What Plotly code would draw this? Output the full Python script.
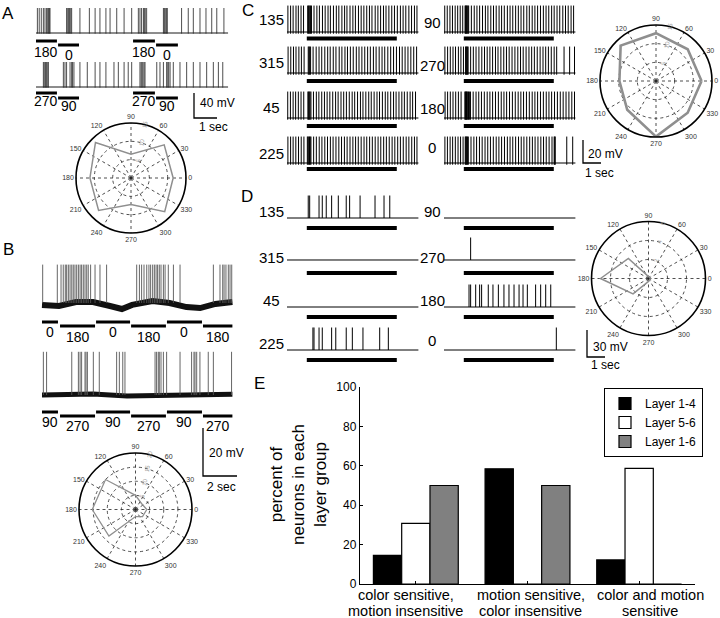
import plotly.graph_objects as go

W, H = 720, 618
FONT = "Liberation Sans, Arial, Helvetica, sans-serif"

# ================= DATA =================
# ---- Panel A (time in s, voltage in mV relative to rest) ----
A_len = 8.35
A_peak = 40
A_stim_on = [0.00, 0.96, 4.22, 5.22]
A_stim_off = [0.91, 1.87, 5.17, 6.17]
A1_dirs = ["180", "0", "180", "0"]
A2_dirs = ["270", "90", "270", "90"]
A1_spikes = [0.06, 0.14, 0.23, 0.32, 0.39, 0.46, 0.51, 0.55, 0.58, 0.61,
             1.33, 1.38, 1.42, 1.46, 1.51, 1.55, 1.91, 2.32, 2.57, 2.78,
             3.04, 3.22, 3.51, 3.83, 4.16, 4.45, 4.52, 4.59, 4.67, 4.71,
             4.75, 4.81, 5.54, 5.58, 5.62, 5.67, 5.71, 6.33, 6.62, 6.84,
             7.13, 7.39, 7.64, 7.86, 8.17]
A2_spikes = [0.32, 0.36, 0.41, 0.45, 0.49, 0.54, 1.19, 1.26, 1.33, 1.48,
             1.55, 1.59, 1.65, 1.91, 2.23, 2.57, 2.78, 3.04, 3.39, 3.58,
             3.83, 4.01, 4.16, 4.52, 4.57, 4.61, 4.65, 4.70, 4.74, 5.25,
             5.39, 5.54, 5.68, 5.73, 5.77, 5.83, 5.97, 6.26, 6.55, 6.84,
             7.13, 7.42, 7.71, 7.93, 8.12]
A_theta = [0, 45, 90, 135, 180, 225, 270, 315, 0]
A_rate = [11.5, 12.8, 6.5, 13.7, 11.2, 12.5, 7.2, 13.0, 11.5]
A_rticks = [5, 10, 15]

# ---- Panel B ----
B_len = 11.2
B1_peak = 16
B2_peak = 18
B_stim_on = [0.00, 1.06, 3.18, 5.24, 7.35, 9.47]
B_stim_off = [0.94, 3.12, 5.18, 7.29, 9.41, 11.20]
B1_dirs = ["0", "180", "0", "180", "0", "180"]
B2_dirs = ["90", "270", "90", "270", "90", "270"]
B1_spikes = [0.04, 0.90, 1.12, 1.25, 1.37, 1.45, 1.55, 1.65, 1.75, 1.84,
             1.94, 2.04, 2.14, 2.24, 2.33, 2.43, 2.53, 2.63, 2.72, 2.86,
             3.12, 3.41, 3.80, 5.57, 5.73, 5.86, 6.00, 6.16, 6.29, 6.39,
             6.51, 6.61, 6.71, 6.80, 6.90, 7.00, 7.14, 7.24, 7.43, 7.73,
             8.12, 10.08, 10.47, 10.63, 10.71, 10.82, 10.96, 11.06, 11.16]
B2_spikes = [0.08, 0.27, 1.75, 2.14, 2.24, 2.33, 2.53, 2.59, 2.67, 3.02,
             3.37, 4.39, 4.55, 4.75, 4.88, 6.65, 6.74, 6.84, 6.90, 7.00,
             7.14, 7.33, 8.12, 8.80, 8.94, 9.00, 9.10, 9.29, 9.78, 10.08,
             11.15]
B1_base_t = [0, 1, 2, 3, 4, 4.7, 5.3, 6.5, 7.5, 8.5, 9.3, 10.2, 11.2]
B1_base_v = [-0.8, -1.25, 0.4, 0.4, -1.25, -2.5, -0.8, 0.8, 0, -1.7, -2.1, -0.4, 0.4]
B2_base_t = [0, 3, 5, 8, 11.2]
B2_base_v = [0, 0.4, -0.4, 0, 0.3]
B_theta = [0, 45, 90, 135, 180, 225, 270, 315, 0]
B_rate = [4, 3, 5, 15, 15.3, 13.3, 2.5, 3.5, 4]
B_rticks = [5, 10, 15, 20]

# ---- Panel C ----
C_len = 7.3
C_peak = 23
C_stim = [1.1, 6.1]
C_left_dirs = ["135", "315", "45", "225"]
C_right_dirs = ["90", "270", "180", "0"]
C135 = [0.05, 0.2, 0.34, 0.5, 0.63, 0.78, 0.92, 1.15, 1.19, 1.23, 1.27, 1.31, 1.36, 1.5, 1.66,
        1.8, 1.97, 2.12, 2.28, 2.41, 2.58, 2.74, 2.88, 3.05, 3.2, 3.33, 3.5, 3.66, 3.8, 3.97,
        4.12, 4.27, 4.43, 4.58, 4.72, 4.9, 5.05, 5.2, 5.36, 5.5, 5.66, 5.82, 5.97, 6.13, 6.3,
        6.45, 6.6, 6.77, 6.92, 7.08, 7.22]
C90 = [0.04, 0.18, 0.33, 0.47, 0.62, 0.76, 0.9, 1.04, 1.17, 1.2, 1.23, 1.26, 1.29, 1.33, 1.37,
       1.52, 1.68, 1.83, 1.98, 2.14, 2.3, 2.44, 2.6, 2.75, 2.9, 3.06, 3.2, 3.35, 3.52, 3.67,
       3.82, 3.98, 4.13, 4.28, 4.43, 4.6, 4.74, 4.9, 5.05, 5.2, 5.36, 5.52, 5.67, 5.82, 5.98,
       6.12, 6.28, 6.43, 6.6, 6.75, 6.9, 7.06, 7.2]
C315 = [0.06, 0.21, 0.36, 0.5, 0.66, 0.8, 0.95, 1.18, 1.22, 1.26, 1.31, 1.45, 1.62, 1.78, 1.93,
        2.1, 2.26, 2.4, 2.57, 2.72, 2.9, 3.05, 3.22, 3.36, 3.52, 3.68, 3.85, 4.0, 4.16, 4.32,
        4.48, 4.63, 4.8, 4.95, 5.12, 5.28, 5.43, 5.6, 5.76, 5.92, 6.08, 6.25, 6.4, 6.56, 6.72,
        6.88, 7.04, 7.2]
C270 = [0.05, 0.2, 0.35, 0.5, 0.64, 0.8, 0.94, 1.08, 1.2, 1.23, 1.26, 1.3, 1.34, 1.48, 1.63,
        1.78, 1.94, 2.1, 2.25, 2.4, 2.55, 2.7, 2.86, 3.0, 3.16, 3.32, 3.47, 3.62, 3.78, 3.94,
        4.1, 4.25, 4.4, 4.56, 4.72, 4.87, 5.02, 5.18, 5.34, 5.5, 5.65, 5.8, 5.96, 6.12, 6.26,
        6.67, 6.98, 7.25]
C45 = [0.04, 0.19, 0.34, 0.48, 0.63, 0.78, 0.93, 1.16, 1.2, 1.24, 1.28, 1.33, 1.47, 1.63, 1.77,
       1.93, 2.08, 2.23, 2.38, 2.54, 2.7, 2.84, 3.0, 3.15, 3.3, 3.46, 3.62, 3.76, 3.92, 4.08,
       4.22, 4.38, 4.54, 4.68, 4.84, 5.0, 5.14, 5.3, 5.46, 5.6, 5.76, 5.92, 6.06, 6.22, 6.38,
       6.52, 6.68, 6.84, 6.98, 7.14]
C180 = [0.06, 0.2, 0.35, 0.5, 0.65, 0.8, 0.95, 1.16, 1.19, 1.22, 1.25, 1.28, 1.32, 1.36, 1.41,
        1.47, 1.62, 1.78, 1.93, 2.08, 2.24, 2.4, 2.55, 2.7, 2.86, 3.02, 3.18, 3.33, 3.48, 3.64,
        3.8, 3.96, 4.12, 4.27, 4.42, 4.58, 4.74, 4.9, 5.05, 5.2, 5.36, 5.52, 5.68, 5.83, 5.98,
        6.14, 6.3, 6.46, 6.62, 6.78, 6.94, 7.1, 7.25]
C225 = [0.05, 0.2, 0.34, 0.49, 0.64, 0.79, 0.94, 1.13, 1.17, 1.21, 1.25, 1.29, 1.33, 1.48, 1.63,
        1.79, 1.94, 2.1, 2.25, 2.41, 2.56, 2.72, 2.88, 3.03, 3.19, 3.34, 3.5, 3.66, 3.81, 3.96,
        4.12, 4.28, 4.43, 4.59, 4.74, 4.9, 5.06, 5.21, 5.37, 5.52, 5.68, 5.84, 5.99, 6.15, 6.3,
        6.46, 6.62, 6.77, 6.93, 7.08, 7.22]
C0 = [0.05, 0.19, 0.34, 0.48, 0.63, 0.78, 0.92, 1.06, 1.18, 1.21, 1.24, 1.27, 1.31, 1.35, 1.5,
      1.66, 1.81, 1.97, 2.12, 2.28, 2.43, 2.58, 2.74, 2.9, 3.05, 3.2, 3.36, 3.52, 3.67, 3.82,
      3.98, 4.14, 4.29, 4.44, 4.6, 4.76, 4.91, 5.06, 5.22, 5.38, 5.53, 5.68, 5.84, 6.0, 6.12,
      6.15, 6.18, 6.82, 7.15]
C_theta = [0, 45, 90, 135, 180, 225, 270, 315, 0]
C_rate = [12.2, 12.0, 12.8, 13.4, 9.8, 10.9, 14.9, 12.0, 12.2]
C_rticks = [5, 10, 15]

# ---- Panel D ----
D_len = 7.3
D_peak = 25
D_stim = [1.1, 6.1]
D_left_dirs = ["135", "315", "45", "225"]
D_right_dirs = ["90", "270", "180", "0"]
D135 = [1.18, 1.26, 1.78, 1.96, 2.18, 2.48, 2.85, 3.29, 3.48, 4.06, 4.89, 5.39, 5.71]
D90 = []
D315 = []
D270 = [1.48]
D45 = []
D180 = [1.39, 1.48, 1.76, 1.98, 2.09, 2.46, 2.72, 3.02, 3.33, 3.61, 3.89, 4.17, 4.39,
        4.63, 5.09, 5.37, 5.65, 5.93]
D225 = [1.44, 1.50, 1.78, 1.96, 2.48, 2.71, 3.29, 3.63, 4.22, 5.15, 5.63]
D0 = [6.24]
D_theta = [0, 45, 90, 135, 180, 225, 270, 315, 0]
D_rate = [0.2, 0.2, 0.2, 3.0, 5.05, 2.3, 0.3, 0.2, 0.2]
D_rticks = [2, 4, 6]

# ---- Panel E ----
E_groups = ["color sensitive,<br>motion insensitive",
            "motion sensitive,<br>color insensitive",
            "color and motion<br>sensitive"]
E_layer14 = [14.5, 58.5, 12.2]
E_layer56 = [30.8, 0, 58.7]
E_layer16 = [50, 50, 0]

# ================= BUILD =================
fig = go.Figure()
layout = {}
annotations = []
n_axes = [0]


def px_x(px):
    return px / W


def px_y(py):
    return 1 - py / H


def new_axis(x0, y0, sx, sy, xr, yr):
    n_axes[0] += 1
    n = n_axes[0]
    s = "" if n == 1 else str(n)
    layout["xaxis" + s] = dict(domain=[px_x(x0 + xr[0] * sx), px_x(x0 + xr[1] * sx)],
                               range=list(xr), visible=False, anchor="y" + s,
                               fixedrange=True, automargin=False)
    layout["yaxis" + s] = dict(domain=[px_y(y0 - yr[0] * sy), px_y(y0 - yr[1] * sy)],
                               range=list(yr), visible=False, anchor="x" + s,
                               fixedrange=True, automargin=False)
    return "x" + s, "y" + s


def text(x, y, s, size, xref="paper", anchor="center", color="black", xshift=0):
    annotations.append(dict(x=(x / W if xref == "paper" else x), y=px_y(y), xref=xref,
                            yref="paper", text=s, showarrow=False, xshift=xshift,
                            font=dict(size=size, color=color, family=FONT),
                            xanchor=anchor, yanchor="middle"))


def draw_trace(xa, ya, spikes, base_t, base_v, peak, low, color="black", sw=1.0, bw=1.0, bcolor="black"):
    fig.add_trace(go.Scatter(x=base_t, y=base_v, xaxis=xa, yaxis=ya, mode="lines",
                             line=dict(color=bcolor, width=bw), showlegend=False, hoverinfo="skip"))
    xs, ys = [], []
    for t in spikes:
        xs += [t, t, None]
        ys += [low, peak, None]
    if xs:
        fig.add_trace(go.Scatter(x=xs, y=ys, xaxis=xa, yaxis=ya, mode="lines",
                                 line=dict(color=color, width=sw), showlegend=False, hoverinfo="skip"))


def draw_bars(xa, ya, ons, offs, levels, width):
    xs, ys = [], []
    for a, b, lv in zip(ons, offs, levels):
        xs += [a, b, None]
        ys += [lv, lv, None]
    fig.add_trace(go.Scatter(x=xs, y=ys, xaxis=xa, yaxis=ya, mode="lines",
                             line=dict(color="black", width=width), showlegend=False, hoverinfo="skip"))


def scalebar(x0, y0, sx, sy, sec, mv, t_mv, t_s, pos_mv, pos_s):
    xa, ya = new_axis(x0, y0, sx, sy, [-0.15 * sec, 1.15 * sec], [-0.1 * mv, 1.1 * mv])
    fig.add_trace(go.Scatter(x=[0, 0, sec], y=[mv, 0, 0], xaxis=xa, yaxis=ya, mode="lines",
                             line=dict(color="black", width=1.3), showlegend=False,
                             hoverinfo="skip", cliponaxis=False))
    text(pos_mv[0], pos_mv[1], t_mv, 12, anchor="left")
    text(pos_s[0], pos_s[1], t_s, 12, anchor="left")


# ---- Panel A ----
A_x0, A_sx, A_sy = 36, 23, 0.625
A_rows = [
    (A1_spikes, A1_dirs, 33, {"180": 41, "0": 45}, {"180": 52, "0": 55}),
    (A2_spikes, A2_dirs, 87, {"270": 93, "90": 98}, {"270": 101, "90": 106}),
]
for spikes, dirs, y0, barpx, labpx in A_rows:
    levels = [(y0 - barpx[d]) / A_sy for d in dirs]
    xa, ya = new_axis(A_x0, y0, A_sx, A_sy, [-0.05, A_len + 0.05], [min(levels) - 3, A_peak + 2])
    draw_trace(xa, ya, spikes, [0, A_len], [0, 0], A_peak, -1, color="#222", sw=0.8, bw=0.9)
    draw_bars(xa, ya, A_stim_on, A_stim_off, levels, 3)
    for on, off, d in zip(A_stim_on, A_stim_off, dirs):
        text((on + off) / 2, labpx[d], d, 14, xref=xa)
scalebar(194, 118, A_sx, A_sy, 1, 40, "40 mV", "1 sec", (198, 103), (197, 127))

# ---- Panel B ----
B_x0, B_sx, B_sy = 42, 17, 2.4
B_rows = [
    (B1_spikes, B1_dirs, 303, B1_base_t, B1_base_v, B1_peak, {"0": 322, "180": 326},
     {"0": 332, "180": 337}, 6),
    (B2_spikes, B2_dirs, 395, B2_base_t, B2_base_v, B2_peak, {"90": 412, "270": 416},
     {"90": 422, "270": 426}, 5),
]
for spikes, dirs, y0, bt, bv, peak, barpx, labpx, bw in B_rows:
    levels = [(y0 - barpx[d]) / B_sy for d in dirs]
    xa, ya = new_axis(B_x0, y0, B_sx, B_sy, [-0.05, B_len + 0.05], [min(levels) - 2, peak + 1])
    draw_trace(xa, ya, spikes, bt, bv, peak, 0, color="#555", sw=0.9, bw=bw, bcolor="#111")
    draw_bars(xa, ya, B_stim_on, B_stim_off, levels, 3)
    for on, off, d in zip(B_stim_on, B_stim_off, dirs):
        text((on + off) / 2, labpx[d], d, 14, xref=xa)
scalebar(203, 476, B_sx, B_sy, 2, 20, "20 mV", "2 sec", (207, 453), (205, 487))

# ---- Panel C ----
C_spk = {"135": C135, "90": C90, "315": C315, "270": C270,
         "45": C45, "180": C180, "225": C225, "0": C0}
C_sx, C_sy = 18, 1.15
C_cols = [(287, C_left_dirs, 271, [20, 63, 107, 153]),
          (444, C_right_dirs, 432, [22, 65, 108, 147])]
C_base_px = [32, 73, 118, 163]
C_bar_px = [38.5, 81, 126, 169]
for x0, dirs, lab_x, lab_y in C_cols:
    for i, d in enumerate(dirs):
        y0 = C_base_px[i]
        lv = (y0 - C_bar_px[i]) / C_sy
        xa, ya = new_axis(x0, y0, C_sx, C_sy, [-0.05, C_len + 0.05], [lv - 3, C_peak + 2])
        draw_trace(xa, ya, C_spk[d], [0, C_len], [0, 0], C_peak, -1.5, sw=1.0, bw=1.1)
        draw_bars(xa, ya, [C_stim[0]], [C_stim[1]], [lv], 4)
        text(lab_x, lab_y[i], d, 15)
scalebar(583, 163, C_sx, C_sy, 1, 20, "20 mV", "1 sec", (586, 154), (583, 173))

# ---- Panel D ----
D_spk = {"135": D135, "90": D90, "315": D315, "270": D270,
         "45": D45, "180": D180, "225": D225, "0": D0}
D_sx, D_sy = 18, 0.9
D_cols = [(287, D_left_dirs, 271, [212, 257, 300, 343]),
          (444, D_right_dirs, 432, [212, 257, 301, 340])]
D_base_px = [218, 260, 307, 350]
D_bar_px = [228, 273, 317, 360]
for x0, dirs, lab_x, lab_y in D_cols:
    for i, d in enumerate(dirs):
        y0 = D_base_px[i]
        lv = (y0 - D_bar_px[i]) / D_sy
        xa, ya = new_axis(x0, y0, D_sx, D_sy, [-0.05, D_len + 0.05], [lv - 4, D_peak + 2])
        draw_trace(xa, ya, D_spk[d], [0, D_len], [0, 0], D_peak, 0, sw=1.0, bw=1.0)
        draw_bars(xa, ya, [D_stim[0]], [D_stim[1]], [lv], 4)
        text(lab_x, lab_y[i], d, 15)
scalebar(587, 357, D_sx, D_sy, 1, 30, "30 mV", "1 sec", (591, 347), (589, 365))

# ---- Polar plots ----
def polar_layout(cx, cy, rad, rticks):
    return dict(
        domain=dict(x=[px_x(cx - rad), px_x(cx + rad)], y=[px_y(cy + rad), px_y(cy - rad)]),
        bgcolor="white",
        angularaxis=dict(rotation=0, direction="counterclockwise", tickmode="array",
                         tickvals=list(range(0, 360, 30)),
                         ticktext=[str(a) for a in range(0, 360, 30)],
                         showline=True, linecolor="black", linewidth=1.6,
                         showgrid=True, gridcolor="#222", griddash="dot", gridwidth=0.8,
                         ticks="", tickfont=dict(size=7, color="#333", family=FONT)),
        radialaxis=dict(range=[0, rticks[-1]], tickmode="array", tickvals=rticks,
                        ticktext=[str(v) for v in rticks], showline=False, ticks="",
                        angle=80, tickangle=0, showgrid=True, gridcolor="#222",
                        griddash="dot", gridwidth=0.8,
                        tickfont=dict(size=6, color="#999", family=FONT)),
    )


polars = [
    ("polar", A_theta, A_rate, A_rticks, (131, 178, 55), 1.5),
    ("polar2", B_theta, B_rate, B_rticks, (135.5, 509.5, 56.5), 1.3),
    ("polar3", C_theta, C_rate, C_rticks, (656, 81, 56), 2.6),
    ("polar4", D_theta, D_rate, D_rticks, (648.5, 278.5, 57), 1.5),
]
for name, th, rr, rt, (cx, cy, rad), lw in polars:
    layout[name] = polar_layout(cx, cy, rad, rt)
    fig.add_trace(go.Scatterpolar(theta=th, r=rr, subplot=name, mode="lines",
                                  line=dict(color="#8f8f8f", width=lw),
                                  showlegend=False, hoverinfo="skip"))

# ---- Panel E ----
n_axes[0] += 1
eid = str(n_axes[0])
E_cats = [1, 2, 3]
layout["xaxis" + eid] = dict(domain=[px_x(360), px_x(695)], range=[0.5, 3.5],
                             tickmode="array", tickvals=E_cats, showticklabels=False,
                             automargin=False,
                             ticks="inside", ticklen=3, tickcolor="black",
                             showline=True, linecolor="black", linewidth=1.2,
                             showgrid=False, zeroline=False, anchor="y" + eid, fixedrange=True)
layout["yaxis" + eid] = dict(domain=[px_y(584), px_y(387)], range=[0, 100], dtick=20,
                             automargin=False,
                             ticks="inside", ticklen=3, tickcolor="black",
                             showline=True, linecolor="black", linewidth=1.2,
                             showgrid=False, zeroline=False, anchor="x" + eid, fixedrange=True,
                             tickfont=dict(size=12, color="black", family=FONT))
for name, vals, col in [("Layer 1-4", E_layer14, "black"),
                        ("Layer 5-6", E_layer56, "white"),
                        ("Layer 1-6", E_layer16, "#808080")]:
    fig.add_trace(go.Bar(x=E_cats, y=vals, name=name, xaxis="x" + eid, yaxis="y" + eid,
                         marker=dict(color=col, line=dict(color="black", width=1.2)),
                         hoverinfo="skip"))
# category labels (two lines each, placed under the axis at each category)
E_label_shift = [-10, 3, 11]
for cat, lab, sh in zip(E_cats, E_groups, E_label_shift):
    for line, ypx in zip(lab.split("<br>"), [595, 611]):
        text(cat, ypx, line, 14.5, xref="x" + eid, xshift=sh)
annotations.append(dict(x=px_x(299), y=px_y(485), xref="paper", yref="paper",
                        text="percent of<br>neurons in each<br>layer group", textangle=-90,
                        showarrow=False, font=dict(size=17, color="black", family=FONT),
                        xanchor="center", yanchor="middle"))

# ---- panel letters ----
for letter, (lx, ly) in {"A": (8, 13), "B": (8, 249), "C": (248, 11),
                          "D": (247, 197), "E": (259, 384)}.items():
    text(lx, ly, letter, 17)

fig.update_layout(**layout)
fig.update_layout(
    width=W, height=H, margin=dict(l=0, r=0, t=0, b=0, autoexpand=False),
    paper_bgcolor="white", plot_bgcolor="white",
    font=dict(family=FONT, color="black"),
    annotations=annotations,
    barmode="group", bargap=0.24, bargroupgap=0,
    showlegend=True, hovermode=False,
    legend=dict(x=px_x(703), y=px_y(388), xanchor="right", yanchor="top",
                bgcolor="white", bordercolor="black", borderwidth=1,
                font=dict(size=12, family=FONT, color="black"), tracegroupgap=0,
                itemwidth=30),
)
fig.write_html("out.html", config={"displayModeBar": False, "staticPlot": True},
               post_script="document.body.style.margin='0px';"
                           "document.body.style.overflow='hidden';")
